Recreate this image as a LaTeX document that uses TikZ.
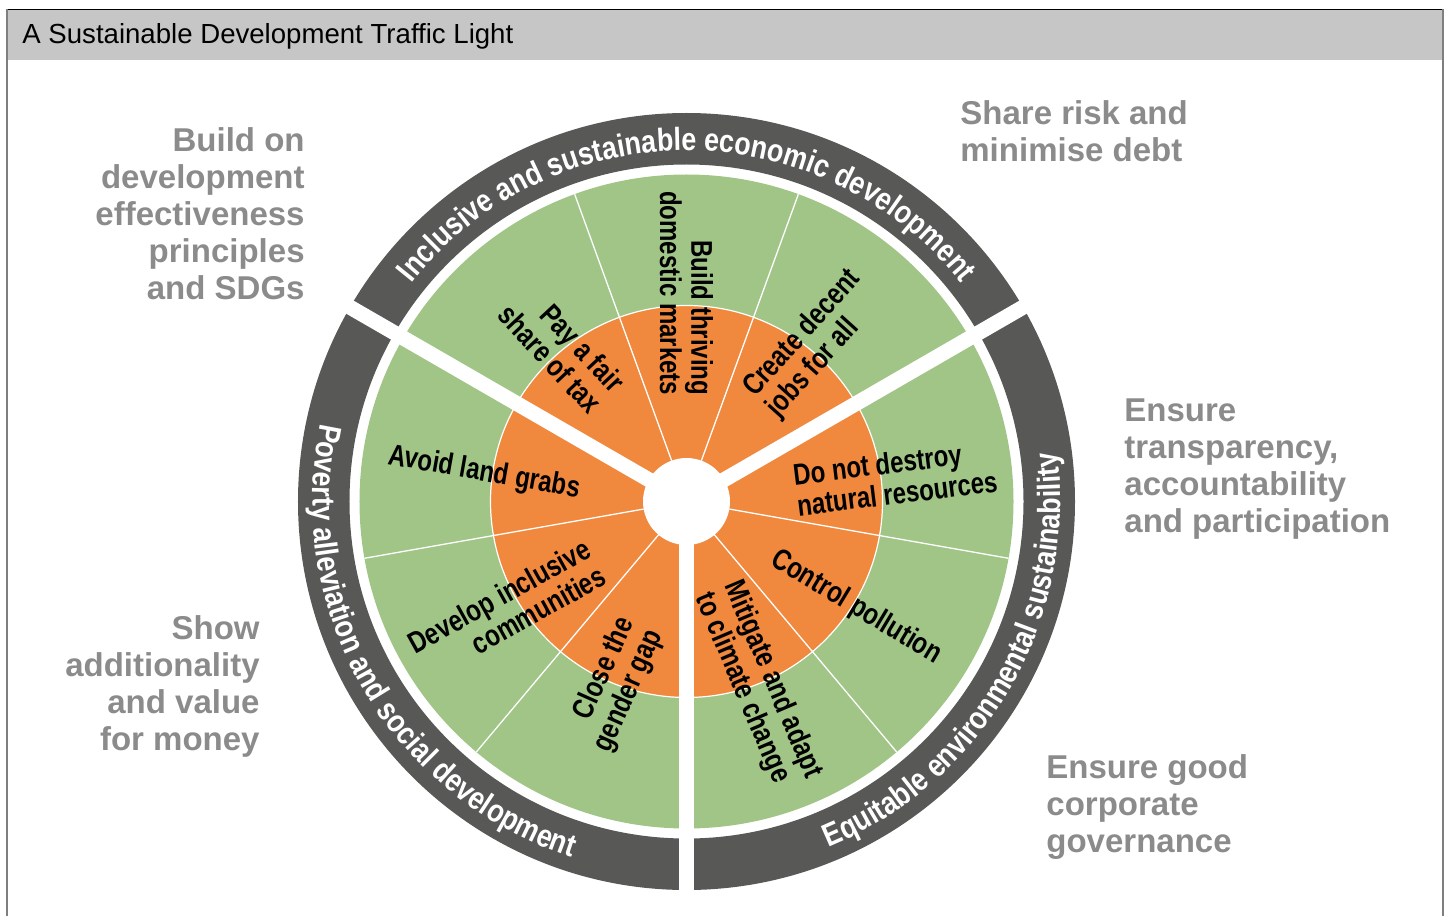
\documentclass[tikz,border=0pt]{standalone}
\usepackage{fontspec}
\setmainfont{Liberation Sans}
\newfontfamily\wedgefont[FakeStretch=0.8]{Liberation Sans}
\newfontfamily\ringfont[FakeStretch=0.84]{Liberation Sans}
\usetikzlibrary{decorations.text}
\usepackage{xcolor}

\definecolor{ringgrey}{HTML}{585857}
\definecolor{leafgreen}{HTML}{A0C586}
\definecolor{lightorange}{HTML}{F0883D}
\definecolor{labelgrey}{HTML}{8B8B8B}
\definecolor{headergrey}{HTML}{C6C6C6}
\definecolor{framegrey}{HTML}{7F7F7F}

\newcommand\ringstyle{\ringfont\bfseries\fontsize{16}{18}\selectfont}

\begin{document}
\begin{tikzpicture}[
        x=0.5pt, y=0.5pt,
        titletext/.style={anchor=west, font=\fontsize{13.8}{16}\selectfont, text=black, inner sep=0pt},
        sidetext/.style={font=\bfseries\fontsize{16.5}{18.5}\selectfont, text=labelgrey, inner sep=0pt},
        wedgetext/.style={font=\wedgefont\bfseries\fontsize{15}{15.6}\selectfont, inner sep=1pt},
        outtext/.style={wedgetext, anchor=west, align=left},
        intext/.style={wedgetext, anchor=east, align=right},
        thinsep/.style={white, line width=0.65pt},
        widegap/.style={white, line width=7.5pt},
        ringtext/.style={decorate, decoration={text along path, text align=center, text color=white, text={|\ringstyle|#1}}}
    ]
    \useasboundingbox (-686.5,-414.5) rectangle (762.5,501.5);

    % FRAME AND HEADER
    \fill[headergrey] (-679.5,441.5) rectangle (756.5,492);
    \draw[black, line width=0.6pt] (-679.5,492) -- (756.5,492);
    \draw[framegrey, line width=1pt] (-679.5,492) -- (-679.5,-414.5);
    \draw[framegrey, line width=1pt] (756.5,492) -- (756.5,-414.5);
    \node[titletext] (title) at (-664.5,465.5) {A Sustainable Development Traffic Light};

    % WHEEL
    \fill[ringgrey, even odd rule] (0,0) circle[radius=388.5] (0,0) circle[radius=337];
    \fill[leafgreen] (0,0) circle[radius=327];
    \filldraw[fill=lightorange, draw=white, line width=0.6pt] (0,0) circle[radius=196];
    \foreach \a in {70,110,190,230,310,350}
        \draw[thinsep] (\a:43.5) -- (\a:327);
    \foreach \a in {30,150,270}
        \draw[widegap] (\a:30) -- (\a:400);
    \fill[white] (0,0) circle[radius=43.5];

    % RING TEXTS
    \path[ringtext={Inclusive and sustainable economic development}] (147:351) arc[start angle=147, end angle=33, radius=351];
    \path[ringtext={Poverty alleviation and social development}] (153:374) arc[start angle=153, end angle=267, radius=374];
    \path[ringtext={Equitable environmental sustainability}] (273:374) arc[start angle=273, end angle=387, radius=374];

    % WEDGE TEXTS
    \node[intext, rotate=-47] (fairtax) at (127:128) {Pay a fair\\share of tax};
    \node[intext, rotate=-90] (markets) at (90:104) {Build thriving\\domestic markets};
    \node[outtext, rotate=48] (jobs) at (53:121) {Create decent\\jobs for all};
    \node[outtext, rotate=7] (resources) at (6:107) {Do not destroy\\natural resources};
    \node[outtext, rotate=-31] (pollution) at (-33:101) {Control pollution};
    \node[outtext, rotate=-67] (climate) at (-71:90) {Mitigate and adapt\\to climate change};
    \node[intext, rotate=66] (gender) at (250:130) {Close the\\gender gap};
    \node[intext, rotate=29] (communities) at (213:106) {Develop inclusive\\communities};
    \node[intext, rotate=-10] (landgrabs) at (174:105) {Avoid land grabs};

    % SIDE TEXTS
    \node[sidetext, anchor=east, align=right] (effprinc) at (-381.5,287.5) {Build on\\development\\effectiveness\\principles\\and SDGs};
    \node[sidetext, anchor=west, align=left] (riskdebt) at (273.5,370.5) {Share risk and\\minimise debt};
    \node[sidetext, anchor=west, align=left] (transp) at (437.5,32.5) {Ensure\\transparency,\\accountability\\and participation};
    \node[sidetext, anchor=east, align=right] (addval) at (-426.5,-184.5) {Show\\additionality\\and value\\for money};
    \node[sidetext, anchor=west, align=left] (govern) at (359.5,-306) {Ensure good\\corporate\\governance};
\end{tikzpicture}
\end{document}
